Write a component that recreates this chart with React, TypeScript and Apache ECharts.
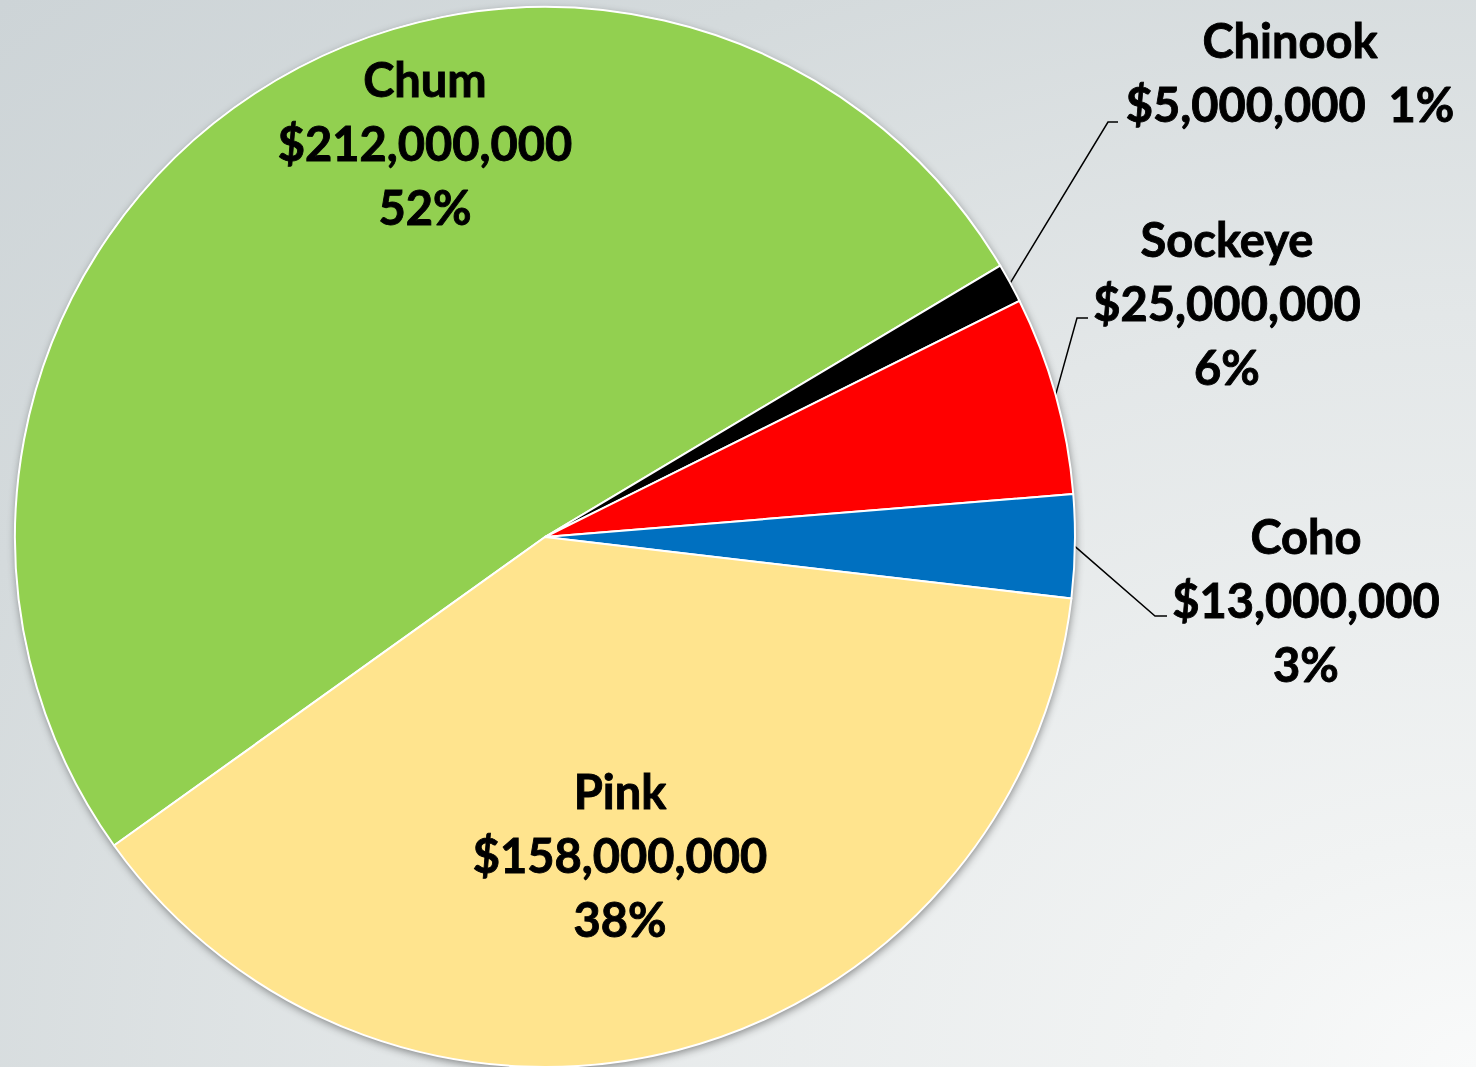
import React, { useEffect, useRef } from "react";
import * as echarts from "echarts";

// ---- data ----
const categories = ["Chum", "Chinook", "Sockeye", "Coho", "Pink"];
const values = [212000000, 5000000, 25000000, 13000000, 158000000];
const percentLabels = ["52%", "1%", "6%", "3%", "38%"];

// ---- styles / layout ----
const colors = ["#92D050", "#000000", "#FF0000", "#0070C0", "#FFE48E"];
const W = 1476;
const H = 1067;
const CENTER: [number, number] = [545, 537];
const RADIUS = 530;
const START_ANGLE = 215.6;
const FONT = "Lato, 'Noto Sans', sans-serif";

// label block centres and leader-line elbows (label layout, not data)
const labelPlacement: { x: number; y: number; elbow?: number[]; end?: number[] }[] = [
  { x: 425, y: 143 },
  { x: 1290, y: 72, elbow: [1108, 122], end: [1118, 122] },
  { x: 1227, y: 303, elbow: [1077, 318], end: [1088, 318] },
  { x: 1306, y: 600, elbow: [1155, 616], end: [1167, 616] },
  { x: 620, y: 855 },
];

const money = (v: number) => "$" + v.toLocaleString("en-US");

export default function App() {
  const ref = useRef<HTMLDivElement>(null);

  useEffect(() => {
    if (!ref.current) return;
    const chart = echarts.init(ref.current, undefined, { renderer: "svg" });

    const data = categories.map((name, i) => ({
      name,
      value: values[i],
      itemStyle: { color: colors[i] },
      labelLine: { show: !!labelPlacement[i].elbow },
    }));

    chart.setOption({
      animation: false,
      backgroundColor: "transparent",
      series: [
        {
          type: "pie",
          silent: true,
          z: 1,
          center: CENTER,
          radius: RADIUS,
          startAngle: START_ANGLE,
          label: { show: false },
          labelLine: { show: false },
          itemStyle: {
            color: "#ffffff",
            shadowBlur: 8,
            shadowOffsetX: 1,
            shadowOffsetY: 3,
            shadowColor: "rgba(0,0,0,0.45)",
          },
          data: [{ name: "bg", value: 1 }],
        },
        {
          type: "pie",
          z: 2,
          center: CENTER,
          radius: RADIUS,
          startAngle: START_ANGLE,
          clockwise: true,
          avoidLabelOverlap: false,
          itemStyle: { borderColor: "#ffffff", borderWidth: 2 },
          label: {
            show: true,
            position: "outside",
            color: "#000000",
            fontFamily: FONT,
            fontWeight: "bold",
            fontSize: 47,
            lineHeight: 64,
            align: "center",
            textBorderColor: "#000000",
            textBorderWidth: 0.9,
            formatter: (p: any) => {
              const i = p.dataIndex;
              const m = money(values[i]);
              if (i === 1) return `${categories[i]}\n${m}  ${percentLabels[i]}`;
              return `${categories[i]}\n${m}\n${percentLabels[i]}`;
            },
          },
          labelLine: {
            show: true,
            smooth: false,
            lineStyle: { color: "#000000", width: 1.5 },
          },
          labelLayout: (params: any) => {
            const lp = labelPlacement[params.dataIndex];
            const out: any = {
              x: lp.x,
              y: lp.y,
              align: "center",
              verticalAlign: "middle",
            };
            if (lp.elbow && params.labelLinePoints) {
              out.labelLinePoints = [params.labelLinePoints[0], lp.elbow, lp.end];
            }
            return out;
          },
          data,
        },
      ],
    });

    return () => chart.dispose();
  }, []);

  return (
    <div
      ref={ref}
      style={{
        position: "fixed",
        left: 0,
        top: 0,
        width: W + "px",
        height: H + "px",
        background:
          "radial-gradient(farthest-corner at 100% 100%, #f9fafa 0%, #f1f3f3 15%, #e3e7e8 50%, #d4dadc 78%, #cdd4d7 100%)",
      }}
    />
  );
}
